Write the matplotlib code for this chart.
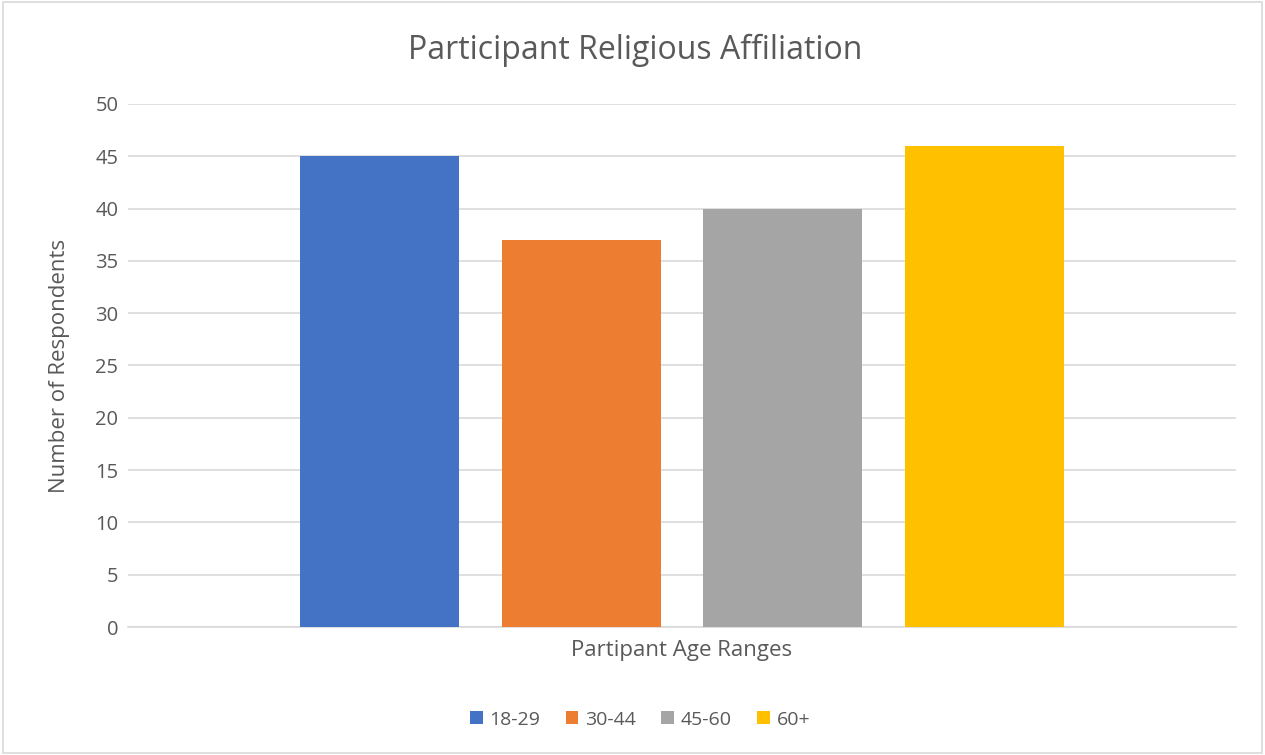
import matplotlib
matplotlib.use("Agg")
import matplotlib.pyplot as plt
from matplotlib.patches import Rectangle

# respondent counts per age range
age_ranges = ["18-29", "30-44", "45-60", "60+"]
respondents = [45, 37, 40, 46]
colors = ["#4472C4", "#ED7D31", "#A5A5A5", "#FFC000"]
y_ticks = [0, 5, 10, 15, 20, 25, 30, 35, 40, 45, 50]

text_color = "#595959"
grid_color = "#D9D9D9"

plt.rcParams["font.family"] = ["Open Sans", "DejaVu Sans"]

fig = plt.figure(figsize=(12.65, 7.55), dpi=100)
ax = fig.add_axes([0.1012, 0.1695, 0.8759, 0.6928])

# one category cluster, four series side by side
offsets = [-0.273, -0.091, 0.091, 0.273]
width = 0.1435
for off, val, col, lab in zip(offsets, respondents, colors, age_ranges):
    ax.bar(off, val, width=width, color=col, label=lab, zorder=3)

ax.set_xlim(-0.5, 0.5)
ax.set_ylim(0, 50)
ax.set_yticks(y_ticks)
ax.set_xticks([])
ax.yaxis.grid(True, color=grid_color, linewidth=1.2, zorder=0)
ax.tick_params(axis="y", length=0, labelsize=14.5, labelcolor=text_color, pad=7)
for side in ["top", "right", "left"]:
    ax.spines[side].set_visible(False)
ax.spines["bottom"].set_color(grid_color)
ax.spines["bottom"].set_linewidth(1.2)

ax.set_ylabel("Number of Respondents", fontsize=16, color=text_color, labelpad=18)
ax.set_xlabel("Partipant Age Ranges", fontsize=16, color=text_color, labelpad=9)

fig.text(0.502, 0.933, "Participant Religious Affiliation", ha="center", va="center",
         fontsize=23, color=text_color)

fig.legend(loc="center", bbox_to_anchor=(0.506, 0.047), ncol=4, frameon=False,
           fontsize=14, labelcolor=text_color, handlelength=0.65, handleheight=0.65,
           handletextpad=0.35, columnspacing=1.3)

# thin chart-area border
fig.patches.append(Rectangle((0.002, 0.003), 0.996, 0.994, transform=fig.transFigure,
                             fill=False, edgecolor=grid_color, linewidth=1.2))

fig.savefig("out.png", dpi=100)
